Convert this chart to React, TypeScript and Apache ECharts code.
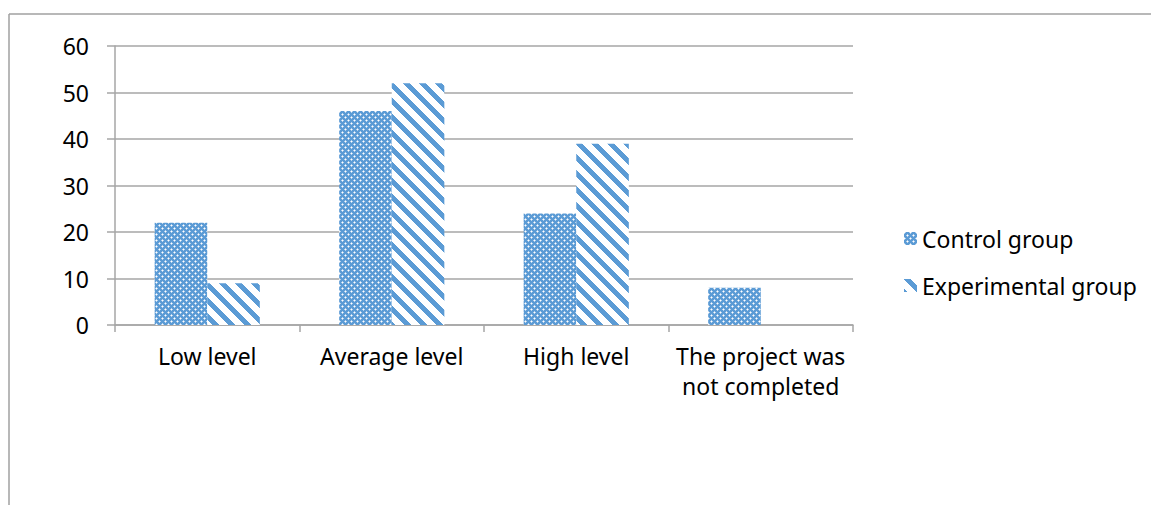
import React, { useEffect, useRef } from "react";
import * as echarts from "echarts";

const categories = ["Low level", "Average level", "High level", "The project was\nnot completed"];
const controlValues = [22, 46, 24, 8];
const experimentalValues = [9, 52, 39, 0];
const seriesNames = ["Control group", "Experimental group"];
const yTicks = { min: 0, max: 60, interval: 10 };

const BLUE = "#5B9BD5";

function makeControlPattern(): HTMLCanvasElement {
  const c = document.createElement("canvas");
  c.width = 6;
  c.height = 6;
  const ctx = c.getContext("2d")!;
  ctx.fillStyle = BLUE;
  ctx.fillRect(0, 0, 6, 6);
  ctx.fillStyle = "#FFFFFF";
  ctx.fillRect(0, 0, 1, 1);
  ctx.fillRect(3, 3, 1, 1);
  ctx.fillStyle = "#B8D2EC";
  ctx.fillRect(1, 0, 1, 1);
  ctx.fillRect(0, 1, 1, 1);
  ctx.fillRect(5, 0, 1, 1);
  ctx.fillRect(0, 5, 1, 1);
  ctx.fillRect(4, 3, 1, 1);
  ctx.fillRect(3, 4, 1, 1);
  ctx.fillRect(2, 3, 1, 1);
  ctx.fillRect(3, 2, 1, 1);
  return c;
}

function makeStripePattern(): HTMLCanvasElement {
  const n = 16;
  const c = document.createElement("canvas");
  c.width = n;
  c.height = n;
  const ctx = c.getContext("2d")!;
  ctx.fillStyle = "#FFFFFF";
  ctx.fillRect(0, 0, n, n);
  ctx.fillStyle = BLUE;
  for (let y = 0; y < n; y++) {
    for (let x = 0; x < n; x++) {
      const d = (((x - y) % n) + n) % n;
      if (d < 7) ctx.fillRect(x, y, 1, 1);
    }
  }
  return c;
}

export default function App() {
  const ref = useRef<HTMLDivElement>(null);
  useEffect(() => {
    if (!ref.current) return;
    const chart = echarts.init(ref.current, undefined, { renderer: "svg" });
    const cCanvas = makeControlPattern();
    const sCanvas = makeStripePattern();
    const controlFill: any = {
      image: cCanvas.toDataURL(),
      repeat: "repeat",
      imageWidth: 6,
      imageHeight: 6,
    };
    const stripeFill: any = {
      image: sCanvas.toDataURL(),
      repeat: "repeat",
      imageWidth: 16,
      imageHeight: 16,
    };
    const font = "'Noto Sans', sans-serif";
    const fs = 23;
    const option: any = {
      animation: false,
      backgroundColor: "#FFFFFF",
      textStyle: { fontFamily: font },
      grid: { left: 115, right: 298, top: 46, bottom: 180, containLabel: false },
      legend: {
        orient: "vertical",
        left: 899,
        top: 222,
        itemWidth: 13,
        itemHeight: 13,
        itemGap: 24,
        itemStyle: { borderWidth: 0 },
        icon: "rect",
        textStyle: { fontSize: fs, color: "#000000", fontFamily: font },
        data: seriesNames,
      },
      xAxis: {
        type: "category",
        data: categories,
        axisLine: { show: true, lineStyle: { color: "#A6A6A6", width: 1.5 } },
        axisTick: { show: true, length: 7, lineStyle: { color: "#A6A6A6", width: 1.5 } },
        axisLabel: {
          fontSize: fs,
          color: "#000000",
          lineHeight: 30,
          margin: 16,
          interval: 0,
          fontFamily: font,
        },
      },
      yAxis: {
        type: "value",
        min: yTicks.min,
        max: yTicks.max,
        interval: yTicks.interval,
        axisLine: { show: true, lineStyle: { color: "#A6A6A6", width: 1.5 } },
        axisTick: { show: true, length: 8, lineStyle: { color: "#A6A6A6", width: 1.5 } },
        splitLine: { show: true, lineStyle: { color: "#A6A6A6", width: 1.5 } },
        axisLabel: { fontSize: fs, color: "#000000", margin: 26, fontFamily: font },
      },
      series: [
        {
          name: seriesNames[0],
          type: "bar",
          data: controlValues,
          barGap: "0%",
          barCategoryGap: "43%",
          itemStyle: { color: controlFill },
        },
        {
          name: seriesNames[1],
          type: "bar",
          data: experimentalValues,
          barGap: "0%",
          barCategoryGap: "43%",
          itemStyle: { color: stripeFill },
        },
      ],
      graphic: [
        {
          type: "line",
          shape: { x1: 9, y1: 14, x2: 1151, y2: 14 },
          style: { stroke: "#A0A0A0", lineWidth: 1.5 },
          silent: true,
        },
        {
          type: "line",
          shape: { x1: 9, y1: 14, x2: 9, y2: 505 },
          style: { stroke: "#A0A0A0", lineWidth: 1.5 },
          silent: true,
        },
      ],
    };
    chart.setOption(option);
    return () => chart.dispose();
  }, []);
  return (
    <div
      ref={ref}
      style={{ position: "fixed", left: 0, top: 0, width: 1151, height: 505, background: "#fff" }}
    />
  );
}
